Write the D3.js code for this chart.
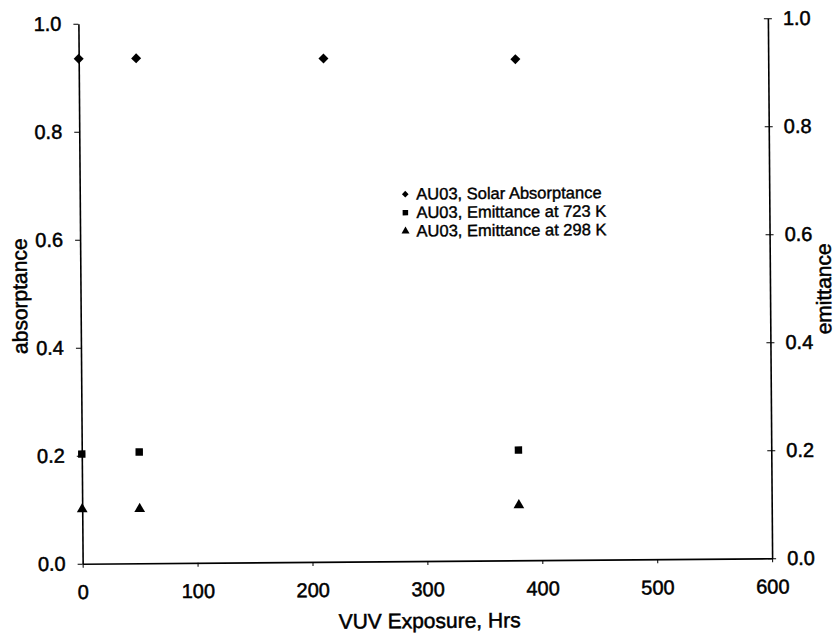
<!DOCTYPE html>
<html>
<head>
<meta charset="utf-8">
<script src="https://cdn.jsdelivr.net/npm/d3@7"></script>
<style>
  body { margin: 0; background: #fff; }
  text { font-family: "Liberation Sans", Arial, sans-serif; fill: #000; }
</style>
</head>
<body>
<script>
'use strict';

// VUV exposure hours for each series
let absHours = [0, 50, 213, 380];
let absValues = [0.935, 0.935, 0.932, 0.928];

let em723Hours = [0, 50, 380];
let em723Values = [0.203, 0.206, 0.204];

let em298Hours = [0, 50, 380];
let em298Values = [0.101, 0.1005, 0.102];

let xTicks = [0, 100, 200, 300, 400, 500, 600];
let yTicks = [0.0, 0.2, 0.4, 0.6, 0.8, 1.0];

let legendLabels = [
  "AU03, Solar Absorptance",
  "AU03, Emittance at 723 K",
  "AU03, Emittance at 298 K"
];

let width = 839, height = 636;
let margin = { left: 80.5, right: 69, top: 21, bottom: 75 };

let svg = d3.select('body').append('svg')
  .attr('width', width)
  .attr('height', height);

// the scanned page is slightly tilted
let chart = svg.append('g')
  .attr('transform', 'rotate(-0.45, 425, 290)');

let xScale = d3.scaleLinear()
  .domain([0, 600])
  .range([margin.left, width - margin.right]);

let yScale = d3.scaleLinear()
  .domain([0, 1])
  .range([height - margin.bottom, margin.top]);

// x axis
let xAxis = chart.append('g')
  .attr('transform', 'translate(0,' + (height - margin.bottom) + ')')
  .call(d3.axisBottom(xScale).tickValues(xTicks).tickSize(4).tickSizeOuter(0).tickPadding(17));

// left axis
let yAxis = chart.append('g')
  .attr('transform', 'translate(' + margin.left + ',0)')
  .call(d3.axisLeft(yScale).tickValues(yTicks).tickFormat(d3.format('.1f')).tickSize(5).tickSizeOuter(0).tickPadding(12));

// right axis, ticks cross the line
let yAxisR = chart.append('g')
  .attr('transform', 'translate(' + (width - margin.right) + ',0)')
  .call(d3.axisRight(yScale).tickValues(yTicks).tickFormat(d3.format('.1f')).tickSize(4).tickSizeOuter(0).tickPadding(11));
yAxisR.selectAll('.tick line').attr('x1', -4);

[xAxis, yAxis, yAxisR].forEach(function(ax) {
  ax.select('.domain').attr('stroke', '#000').attr('stroke-width', 1.6);
  ax.selectAll('.tick line').attr('stroke', '#000').attr('stroke-width', 1);
  ax.selectAll('.tick text')
    .style('font-size', '20px')
    .attr('stroke', '#000')
    .attr('stroke-width', 0.5);
});

// axis titles
chart.append('text')
  .attr('transform', 'translate(27, 293)rotate(-90)')
  .attr('text-anchor', 'middle')
  .style('font-size', '21px')
  .attr('stroke', '#000').attr('stroke-width', 0.5)
  .text('absorptance');

chart.append('text')
  .attr('transform', 'translate(831, 292)rotate(-90)')
  .attr('text-anchor', 'middle')
  .style('font-size', '21px')
  .attr('stroke', '#000').attr('stroke-width', 0.5)
  .text('emittance');

chart.append('text')
  .attr('x', 427)
  .attr('y', 628)
  .attr('text-anchor', 'middle')
  .style('font-size', '21px')
  .attr('stroke', '#000').attr('stroke-width', 0.5)
  .text('VUV Exposure, Hrs');

// markers (diamond = square turned 45 degrees)
let diamond = d3.symbol().type(d3.symbolSquare).size(50);
let square = d3.symbol().type(d3.symbolSquare).size(55);
let triangle = d3.symbol().type(d3.symbolTriangle).size(50);

function plotSeries(hours, values, sym, turn) {
  chart.append('g').selectAll('path')
    .data(hours)
    .enter()
    .append('path')
      .attr('d', sym)
      .attr('transform', function(d, i) {
        return 'translate(' + xScale(d) + ',' + yScale(values[i]) + ')rotate(' + turn + ')';
      })
      .attr('fill', '#000');
}

plotSeries(absHours, absValues, diamond, 45);
plotSeries(em723Hours, em723Values, square, 0);
plotSeries(em298Hours, em298Values, triangle, 0);

// legend
let legendSyms = [
  d3.symbol().type(d3.symbolSquare).size(22),
  d3.symbol().type(d3.symbolSquare).size(30),
  d3.symbol().type(d3.symbolTriangle).size(28)
];
let legendTurns = [45, 0, 0];

let legend = chart.append('g').attr('transform', 'translate(406, 194)');
legendLabels.forEach(function(label, i) {
  legend.append('path')
    .attr('d', legendSyms[i])
    .attr('transform', 'translate(0,' + (i * 18.5) + ')rotate(' + legendTurns[i] + ')')
    .attr('fill', '#000');
  legend.append('text')
    .attr('x', 11)
    .attr('y', i * 18.5 + 5.5)
    .style('font-size', '16.5px')
    .attr('stroke', '#000').attr('stroke-width', 0.4)
    .text(label);
});
</script>
</body>
</html>
